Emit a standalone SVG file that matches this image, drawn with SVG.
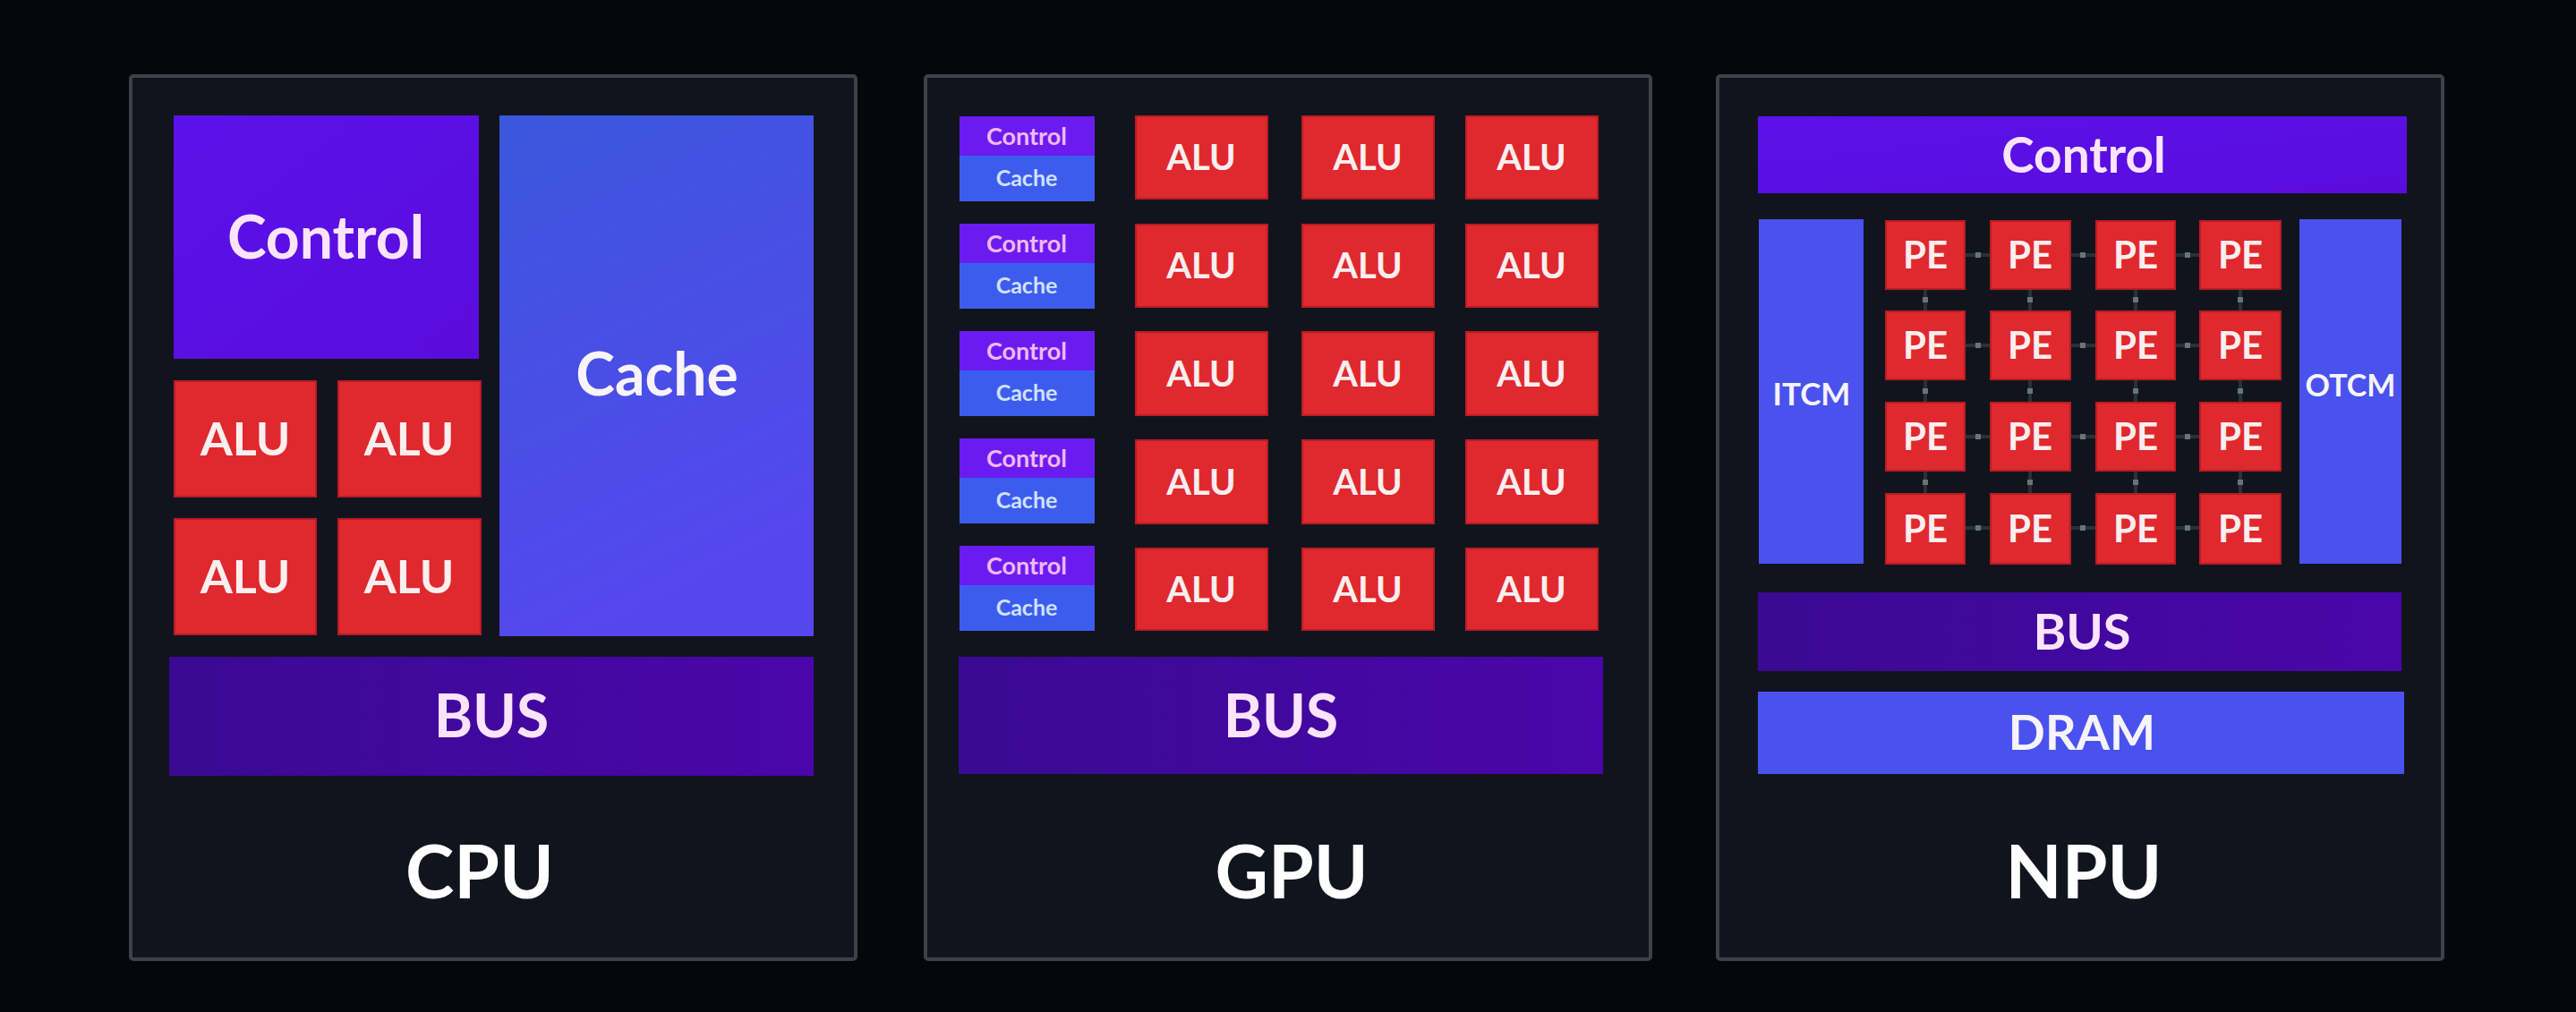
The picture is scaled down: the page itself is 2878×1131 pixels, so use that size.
<svg xmlns="http://www.w3.org/2000/svg" width="2878" height="1131" viewBox="0 0 2878 1131">
<defs>
<linearGradient id="gCache" x1="0" y1="0" x2="0.3" y2="1"><stop offset="0" stop-color="#3b57dc"/><stop offset="1" stop-color="#5547ee"/></linearGradient>
<linearGradient id="gBus" x1="0" y1="0" x2="1" y2="0"><stop offset="0" stop-color="#3a0a92"/><stop offset="1" stop-color="#4a06aa"/></linearGradient>
<linearGradient id="gCtl" x1="0" y1="0" x2="1" y2="1"><stop offset="0" stop-color="#5a12ea"/><stop offset="1" stop-color="#5a0cdc"/></linearGradient>
<style>
text{font-family:Lato,"Open Sans","Liberation Sans",sans-serif;font-weight:700;text-anchor:middle}
.panel{fill:#12141d;stroke:#3f414a;stroke-width:4}
.ctl{fill:url(#gCtl)}
.cache{fill:url(#gCache)}
.alu{fill:#e0282f;stroke:#b81c24;stroke-width:2}
.bus{fill:url(#gBus)}
.mem{fill:#4a52ee}
.mctl{fill:#6a1cf0}
.mcache{fill:#3d5cee}
.tc{fill:#fbe4fb}
.tw{fill:#f6f4fa}
.tmc{fill:#f2b8f2;font-size:27px}
.tmk{fill:#cfe2ff;font-size:25px}
.talu{fill:#fbeeee}
.title{fill:#ffffff;font-size:82px}
.conn line{stroke:#283238;stroke-width:4}
.conn rect{fill:#6b7474}
</style>
</defs>
<rect x="0" y="0" width="2878" height="1131" fill="#06070c"/>

<!-- CPU -->
<g id="cpu">
<rect class="panel" x="146" y="85" width="810" height="987" rx="3"/>
<g id="cpu-control"><rect class="ctl" x="194" y="129" width="341" height="272"/><text class="tc" x="364" y="289" font-size="66">Control</text></g>
<g id="cpu-cache"><rect class="cache" x="558" y="129" width="351" height="582"/><text class="tw" x="734" y="442" font-size="66">Cache</text></g>
<g id="cpu-alu1"><rect class="alu" x="195" y="426" width="158" height="129"/><text class="talu" x="274" y="509" font-size="52">ALU</text></g>
<g id="cpu-alu2"><rect class="alu" x="378" y="426" width="159" height="129"/><text class="talu" x="457" y="509" font-size="52">ALU</text></g>
<g id="cpu-alu3"><rect class="alu" x="195" y="580" width="158" height="129"/><text class="talu" x="274" y="663" font-size="52">ALU</text></g>
<g id="cpu-alu4"><rect class="alu" x="378" y="580" width="159" height="129"/><text class="talu" x="457" y="663" font-size="52">ALU</text></g>
<g id="cpu-bus"><rect class="bus" x="189" y="734" width="720" height="133"/><text class="tc" x="549" y="824" font-size="66">BUS</text></g>
<text class="title" x="536" y="1004">CPU</text>
</g>

<!-- GPU -->
<g id="gpu">
<rect class="panel" x="1034" y="85" width="810" height="987" rx="3"/>
<g id="gpu-cc1"><rect class="mctl" x="1072" y="130" width="151" height="44"/><rect class="mcache" x="1072" y="174" width="151" height="51"/><text class="tmc" x="1147" y="162">Control</text><text class="tmk" x="1147" y="208">Cache</text></g>
<g id="gpu-cc2"><rect class="mctl" x="1072" y="250" width="151" height="44"/><rect class="mcache" x="1072" y="294" width="151" height="51"/><text class="tmc" x="1147" y="282">Control</text><text class="tmk" x="1147" y="328">Cache</text></g>
<g id="gpu-cc3"><rect class="mctl" x="1072" y="370" width="151" height="44"/><rect class="mcache" x="1072" y="414" width="151" height="51"/><text class="tmc" x="1147" y="402">Control</text><text class="tmk" x="1147" y="448">Cache</text></g>
<g id="gpu-cc4"><rect class="mctl" x="1072" y="490" width="151" height="44"/><rect class="mcache" x="1072" y="534" width="151" height="51"/><text class="tmc" x="1147" y="522">Control</text><text class="tmk" x="1147" y="568">Cache</text></g>
<g id="gpu-cc5"><rect class="mctl" x="1072" y="610" width="151" height="44"/><rect class="mcache" x="1072" y="654" width="151" height="51"/><text class="tmc" x="1147" y="642">Control</text><text class="tmk" x="1147" y="688">Cache</text></g>

<g id="gpu-alu-r1c1"><rect class="alu" x="1269" y="130" width="147" height="92"/><text class="talu" x="1342" y="190" font-size="40">ALU</text></g>
<g id="gpu-alu-r1c2"><rect class="alu" x="1455" y="130" width="147" height="92"/><text class="talu" x="1528" y="190" font-size="40">ALU</text></g>
<g id="gpu-alu-r1c3"><rect class="alu" x="1638" y="130" width="147" height="92"/><text class="talu" x="1711" y="190" font-size="40">ALU</text></g>
<g id="gpu-alu-r2c1"><rect class="alu" x="1269" y="251" width="147" height="92"/><text class="talu" x="1342" y="311" font-size="40">ALU</text></g>
<g id="gpu-alu-r2c2"><rect class="alu" x="1455" y="251" width="147" height="92"/><text class="talu" x="1528" y="311" font-size="40">ALU</text></g>
<g id="gpu-alu-r2c3"><rect class="alu" x="1638" y="251" width="147" height="92"/><text class="talu" x="1711" y="311" font-size="40">ALU</text></g>
<g id="gpu-alu-r3c1"><rect class="alu" x="1269" y="371" width="147" height="93"/><text class="talu" x="1342" y="432" font-size="40">ALU</text></g>
<g id="gpu-alu-r3c2"><rect class="alu" x="1455" y="371" width="147" height="93"/><text class="talu" x="1528" y="432" font-size="40">ALU</text></g>
<g id="gpu-alu-r3c3"><rect class="alu" x="1638" y="371" width="147" height="93"/><text class="talu" x="1711" y="432" font-size="40">ALU</text></g>
<g id="gpu-alu-r4c1"><rect class="alu" x="1269" y="492" width="147" height="93"/><text class="talu" x="1342" y="553" font-size="40">ALU</text></g>
<g id="gpu-alu-r4c2"><rect class="alu" x="1455" y="492" width="147" height="93"/><text class="talu" x="1528" y="553" font-size="40">ALU</text></g>
<g id="gpu-alu-r4c3"><rect class="alu" x="1638" y="492" width="147" height="93"/><text class="talu" x="1711" y="553" font-size="40">ALU</text></g>
<g id="gpu-alu-r5c1"><rect class="alu" x="1269" y="613" width="147" height="91"/><text class="talu" x="1342" y="673" font-size="40">ALU</text></g>
<g id="gpu-alu-r5c2"><rect class="alu" x="1455" y="613" width="147" height="91"/><text class="talu" x="1528" y="673" font-size="40">ALU</text></g>
<g id="gpu-alu-r5c3"><rect class="alu" x="1638" y="613" width="147" height="91"/><text class="talu" x="1711" y="673" font-size="40">ALU</text></g>
<g id="gpu-bus"><rect class="bus" x="1071" y="734" width="720" height="131"/><text class="tc" x="1431" y="824" font-size="66">BUS</text></g>
<text class="title" x="1443" y="1004">GPU</text>
</g>

<!-- NPU -->
<g id="npu">
<rect class="panel" x="1919" y="85" width="810" height="987" rx="3"/>
<g id="npu-control"><rect class="ctl" x="1964" y="130" width="725" height="86"/><text class="tc" x="2328" y="193" font-size="55">Control</text></g>
<g id="npu-itcm"><rect class="mem" x="1965" y="245" width="117" height="385"/><text class="tw" x="2024" y="453" font-size="35">ITCM</text></g>
<g id="npu-otcm"><rect class="mem" x="2569" y="245" width="114" height="385"/><text class="tw" x="2626" y="443" font-size="34">OTCM</text></g>
</g>

<g id="connectors" class="conn">
<line x1="2196" y1="285" x2="2223" y2="285"/><line x1="2314" y1="285" x2="2341" y2="285"/><line x1="2431" y1="285" x2="2457" y2="285"/>
<line x1="2196" y1="386" x2="2223" y2="386"/><line x1="2314" y1="386" x2="2341" y2="386"/><line x1="2431" y1="386" x2="2457" y2="386"/>
<line x1="2196" y1="488" x2="2223" y2="488"/><line x1="2314" y1="488" x2="2341" y2="488"/><line x1="2431" y1="488" x2="2457" y2="488"/>
<line x1="2196" y1="590" x2="2223" y2="590"/><line x1="2314" y1="590" x2="2341" y2="590"/><line x1="2431" y1="590" x2="2457" y2="590"/>
<line x1="2151" y1="323" x2="2151" y2="348"/><line x1="2268" y1="323" x2="2268" y2="348"/><line x1="2386" y1="323" x2="2386" y2="348"/><line x1="2503" y1="323" x2="2503" y2="348"/>
<line x1="2151" y1="424" x2="2151" y2="450"/><line x1="2268" y1="424" x2="2268" y2="450"/><line x1="2386" y1="424" x2="2386" y2="450"/><line x1="2503" y1="424" x2="2503" y2="450"/>
<line x1="2151" y1="526" x2="2151" y2="552"/><line x1="2268" y1="526" x2="2268" y2="552"/><line x1="2386" y1="526" x2="2386" y2="552"/><line x1="2503" y1="526" x2="2503" y2="552"/>
<rect x="2207" y="282" width="6" height="6"/><rect x="2324" y="282" width="6" height="6"/><rect x="2441" y="282" width="6" height="6"/>
<rect x="2207" y="383" width="6" height="6"/><rect x="2324" y="383" width="6" height="6"/><rect x="2441" y="383" width="6" height="6"/>
<rect x="2207" y="485" width="6" height="6"/><rect x="2324" y="485" width="6" height="6"/><rect x="2441" y="485" width="6" height="6"/>
<rect x="2207" y="587" width="6" height="6"/><rect x="2324" y="587" width="6" height="6"/><rect x="2441" y="587" width="6" height="6"/>
<rect x="2148" y="332" width="6" height="6"/><rect x="2265" y="332" width="6" height="6"/><rect x="2383" y="332" width="6" height="6"/><rect x="2500" y="332" width="6" height="6"/>
<rect x="2148" y="434" width="6" height="6"/><rect x="2265" y="434" width="6" height="6"/><rect x="2383" y="434" width="6" height="6"/><rect x="2500" y="434" width="6" height="6"/>
<rect x="2148" y="536" width="6" height="6"/><rect x="2265" y="536" width="6" height="6"/><rect x="2383" y="536" width="6" height="6"/><rect x="2500" y="536" width="6" height="6"/>
</g>

<g id="npu-pes">
<g id="pe-r1c1"><rect class="alu" x="2107" y="247" width="88" height="76"/><text class="talu" x="2151" y="300" font-size="42">PE</text></g>
<g id="pe-r1c2"><rect class="alu" x="2224" y="247" width="89" height="76"/><text class="talu" x="2268" y="300" font-size="42">PE</text></g>
<g id="pe-r1c3"><rect class="alu" x="2342" y="247" width="88" height="76"/><text class="talu" x="2386" y="300" font-size="42">PE</text></g>
<g id="pe-r1c4"><rect class="alu" x="2458" y="247" width="90" height="76"/><text class="talu" x="2503" y="300" font-size="42">PE</text></g>
<g id="pe-r2c1"><rect class="alu" x="2107" y="348" width="88" height="76"/><text class="talu" x="2151" y="401" font-size="42">PE</text></g>
<g id="pe-r2c2"><rect class="alu" x="2224" y="348" width="89" height="76"/><text class="talu" x="2268" y="401" font-size="42">PE</text></g>
<g id="pe-r2c3"><rect class="alu" x="2342" y="348" width="88" height="76"/><text class="talu" x="2386" y="401" font-size="42">PE</text></g>
<g id="pe-r2c4"><rect class="alu" x="2458" y="348" width="90" height="76"/><text class="talu" x="2503" y="401" font-size="42">PE</text></g>
<g id="pe-r3c1"><rect class="alu" x="2107" y="450" width="88" height="76"/><text class="talu" x="2151" y="503" font-size="42">PE</text></g>
<g id="pe-r3c2"><rect class="alu" x="2224" y="450" width="89" height="76"/><text class="talu" x="2268" y="503" font-size="42">PE</text></g>
<g id="pe-r3c3"><rect class="alu" x="2342" y="450" width="88" height="76"/><text class="talu" x="2386" y="503" font-size="42">PE</text></g>
<g id="pe-r3c4"><rect class="alu" x="2458" y="450" width="90" height="76"/><text class="talu" x="2503" y="503" font-size="42">PE</text></g>
<g id="pe-r4c1"><rect class="alu" x="2107" y="552" width="88" height="78"/><text class="talu" x="2151" y="606" font-size="42">PE</text></g>
<g id="pe-r4c2"><rect class="alu" x="2224" y="552" width="89" height="78"/><text class="talu" x="2268" y="606" font-size="42">PE</text></g>
<g id="pe-r4c3"><rect class="alu" x="2342" y="552" width="88" height="78"/><text class="talu" x="2386" y="606" font-size="42">PE</text></g>
<g id="pe-r4c4"><rect class="alu" x="2458" y="552" width="90" height="78"/><text class="talu" x="2503" y="606" font-size="42">PE</text></g>
</g>

<g id="npu-bottom">
<g id="npu-bus"><rect class="bus" x="1964" y="662" width="719" height="88"/><text class="tc" x="2326" y="726" font-size="56">BUS</text></g>
<g id="npu-dram"><rect class="mem" x="1964" y="773" width="722" height="92"/><text class="tw" x="2326" y="838" font-size="54">DRAM</text></g>
<text class="title" x="2328" y="1004">NPU</text>
</g>
</svg>
